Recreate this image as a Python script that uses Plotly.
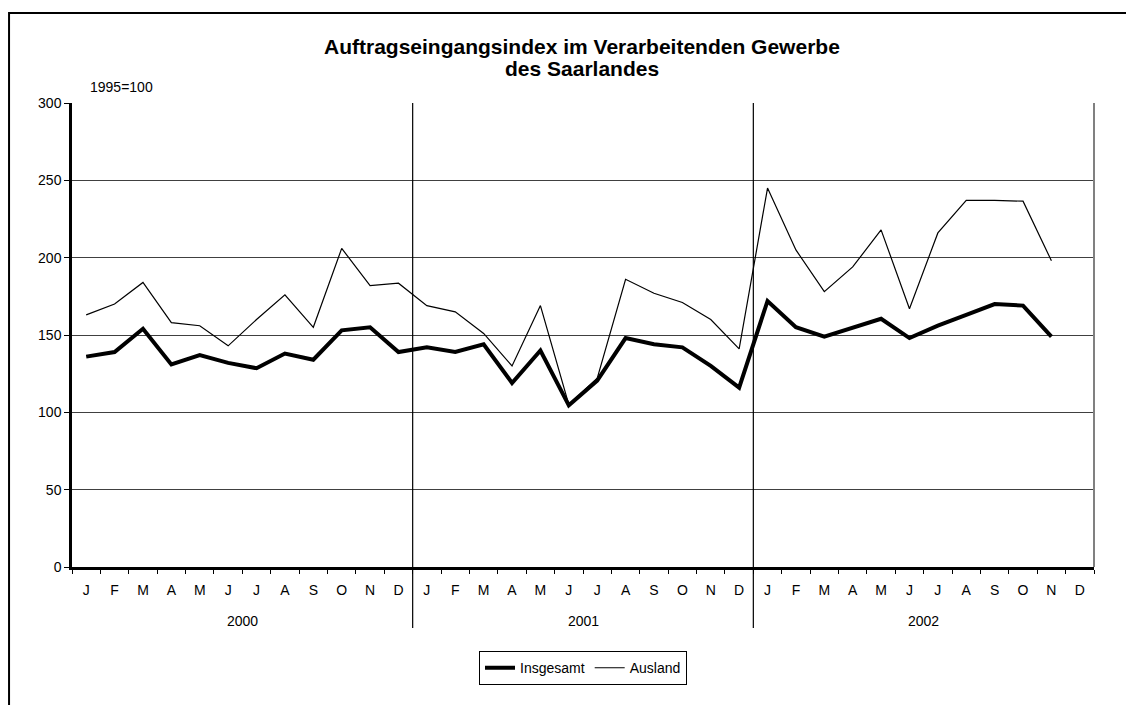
import plotly.graph_objects as go

months = ["J", "F", "M", "A", "M", "J", "J", "A", "S", "O", "N", "D"]
years = ["2000", "2001", "2002"]

insgesamt = [136, 139, 154, 131, 137, 132, 128.5, 138, 134, 153, 155, 139,
             142, 139, 144, 119, 140, 104.5, 120.5, 148, 144, 142, 130, 116,
             172, 155, 149, 155, 160.5, 148, 156, 163, 170, 169, 149, None]
ausland = [163, 170, 184, 158, 156, 143, 160, 176, 155, 206, 182, 183.5,
           169, 165, 151, 130, 169, 105, 122, 186, 177, 171, 160, 141,
           245, 205, 178, 194, 218, 167, 216, 237, 237, 236.5, 198, None]

y_ticks = [0, 50, 100, 150, 200, 250, 300]
title_lines = ["Auftragseingangsindex im Verarbeitenden Gewerbe", "des Saarlandes"]

x = list(range(len(months) * len(years)))
tick_text = months * len(years)

FONT = "Liberation Sans, Arial, sans-serif"

fig = go.Figure()
fig.add_trace(go.Scatter(x=x, y=insgesamt, mode="lines", name="Insgesamt",
                         line=dict(color="black", width=4)))
fig.add_trace(go.Scatter(x=x, y=ausland, mode="lines", name="Ausland",
                         line=dict(color="black", width=1.2)))

shapes = []
# year separator lines
for k in range(1, len(years)):
    xv = k * 12 - 0.5
    shapes.append(dict(type="line", xref="x", yref="paper", x0=xv, x1=xv,
                       y0=-0.1315, y1=1, line=dict(color="black", width=1.2)))
# right border of plot area
shapes.append(dict(type="line", xref="paper", yref="paper", x0=1, x1=1, y0=0, y1=1,
                   line=dict(color="#808080", width=2)))
# outer frame (top and left)
shapes.append(dict(type="line", xref="paper", yref="paper", x0=-0.0616, x1=1.035,
                   y0=1.194, y1=1.194, line=dict(color="black", width=2)))
shapes.append(dict(type="line", xref="paper", yref="paper", x0=-0.0616, x1=-0.0616,
                   y0=1.196, y1=-0.30, line=dict(color="black", width=2)))

annotations = []
for i, yr in enumerate(years):
    annotations.append(dict(text=yr, x=i * 12 + 5.5, y=-0.1164, xref="x", yref="paper",
                            showarrow=False, font=dict(size=14, color="black", family=FONT),
                            yanchor="middle"))
annotations.append(dict(text="1995=100", x=0.0157, y=1.0345, xref="paper", yref="paper",
                        xanchor="left", yanchor="middle", showarrow=False,
                        font=dict(size=14, color="black", family=FONT)))
for txt, yy in zip(title_lines, [1.1207, 1.0754]):
    annotations.append(dict(text="<b>" + txt + "</b>", x=0.499, y=yy, xref="paper", yref="paper",
                            xanchor="center", yanchor="middle", showarrow=False,
                            font=dict(size=21, color="black", family=FONT)))

fig.update_layout(
    width=1126, height=705,
    margin=dict(l=72, r=32, t=103, b=138),
    paper_bgcolor="white", plot_bgcolor="white",
    font=dict(family=FONT, color="black", size=14),
    showlegend=True,
    legend=dict(orientation="h", x=0.5, xanchor="center", y=-0.218, yanchor="middle",
                bordercolor="black", borderwidth=1, bgcolor="white",
                font=dict(size=14, color="black", family=FONT),
                itemwidth=30, tracegroupgap=0),
    shapes=shapes,
    annotations=annotations,
)

fig.update_xaxes(range=[-0.5, len(x) - 0.5], tickmode="array", tickvals=x, ticktext=tick_text,
                 ticks="", showgrid=False, zeroline=False, showline=True,
                 linecolor="black", linewidth=2.5, ticklabelstandoff=8,
                 tickfont=dict(size=14, color="black", family=FONT),
                 minor=dict(tickmode="linear", tick0=-0.5, dtick=1, ticks="outside",
                            ticklen=4, tickcolor="black", tickwidth=1, showgrid=False))
fig.update_yaxes(range=[0, 300], tickmode="array", tickvals=y_ticks,
                 ticks="outside", ticklen=5, tickcolor="black",
                 showgrid=True, gridcolor="#404040", gridwidth=1,
                 zeroline=False, showline=True, linecolor="black", linewidth=2.5,
                 tickfont=dict(size=14, color="black", family=FONT))

fig.write_html("out.html", config={"displayModeBar": False},
               post_script="document.body.style.margin='0px';")
